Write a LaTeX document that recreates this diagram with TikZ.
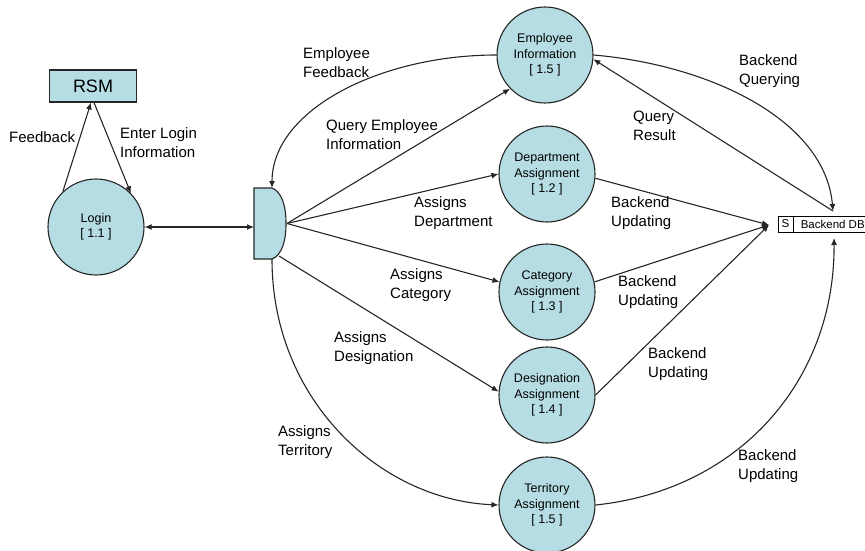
\documentclass[tikz,border=0pt]{standalone}
\usepackage{fontspec}
\setmainfont{Liberation Sans}
\usetikzlibrary{arrows.meta,calc}
\definecolor{procfill}{RGB}{182,221,228}
\definecolor{inkline}{RGB}{38,38,38}

\begin{document}
\begin{tikzpicture}[x=1pt,y=-1pt,
  flow/.style={draw=inkline, line width=1.1pt, -{Latex[length=7pt,width=6pt]}},
  twoway/.style={draw=inkline, line width=1.1pt, {Latex[length=7pt,width=6pt]}-{Latex[length=7pt,width=6pt]}},
  process/.style={circle, draw=inkline, line width=1.1pt, fill=procfill,
    minimum size=96pt, inner sep=0pt, align=center,
    font=\fontsize{12.5}{15.5}\selectfont},
  lbl/.style={anchor=west, inner sep=0pt, align=left,
    font=\fontsize{15}{19}\selectfont},
]
\useasboundingbox (0,0) rectangle (865,551);

% external entity
\node (rsm) [draw=inkline, line width=1.1pt, fill=procfill, minimum width=87pt,
  minimum height=32pt, font=\fontsize{18}{20}\selectfont] at (93,86) {RSM};

% processes
\node (login) [process] at (96,227) {Login\\{[} 1.1 {]}};
\node (emp)   [process] at (545,55)  {Employee\\Information\\{[} 1.5 {]}};
\node (dept)  [process] at (547,174) {Department\\Assignment\\{[} 1.2 {]}};
\node (cat)   [process] at (547,292) {Category\\Assignment\\{[} 1.3 {]}};
\node (des)   [process] at (547,395) {Designation\\Assignment\\{[} 1.4 {]}};
\node (terr)  [process] at (547,505) {Territory\\Assignment\\{[} 1.5 {]}};

% D-shaped hub
\draw[draw=inkline, line width=1.1pt, fill=procfill]
  (254,188) -- (272,188) .. controls (282,192) and (286,206) .. (286,223.5)
  .. controls (286,241) and (282,255) .. (272,259) -- (254,259) -- cycle;
\coordinate (stL)  at (254,227);
\coordinate (stR)  at (287,223.5);
\coordinate (stT)  at (272,188);
\coordinate (stB)  at (272,259);
\coordinate (stBR) at (279,256);

% data store
\node (dbS) [draw=black, line width=0.8pt, fill=white, minimum width=15pt,
  minimum height=16pt, inner sep=0pt, font=\fontsize{11.5}{12}\selectfont]
  at (785.5,224) {S};
\node (dbN) [draw=black, line width=0.8pt, fill=white, anchor=west,
  minimum height=16pt, inner ysep=0pt, inner xsep=7pt,
  font=\fontsize{11.5}{12}\selectfont] at (dbS.east) {Backend DB};
\coordinate (dbL) at (769,225);
\coordinate (dbT) at (833,211);
\coordinate (dbB) at (834,238);

% login flows
\draw[flow] (login.133) -- ($(rsm.south)+(-2,0)$);
\draw[flow] ($(rsm.south)+(1,0)$) -- (login.44);
\draw[twoway] (login.east) -- (stL);

% hub to processes
\draw[flow] (emp.180) .. controls (380,55) and (272,110) .. (stT);
\draw[flow] (stR) -- (emp.224);
\draw[flow] (stR) -- (dept.west);
\draw[flow] (stR) -- (cat.168);
\draw[flow] (stBR) -- (des.176);
\draw[flow] (stB) .. controls (272,400) and (380,500) .. (terr.west);

% processes to data store
\draw[flow] (emp.east) .. controls (710,65) and (825,120) .. (dbT);
\draw[flow] (dbT) -- (emp.355);
\draw[flow] (dept.355) -- (dbL);
\draw[flow] (cat.12) -- (dbL);
\draw[flow] (des.east) -- (dbL);
\draw[flow] (terr.east) .. controls (740,490) and (835,380) .. (dbB);

% flow labels
\node (lfb)    [lbl] at (9,137)   {Feedback};
\node (lent)   [lbl] at (120,143) {Enter Login\\Information};
\node (lempfb) [lbl] at (303,63)  {Employee\\Feedback};
\node (lqei)   [lbl] at (326,135) {Query Employee\\Information};
\node (lbq)    [lbl] at (739,71)  {Backend\\Querying};
\node (lqr)    [lbl] at (633,126) {Query\\Result};
\node (ladept) [lbl] at (414,213) {Assigns\\Department};
\node (lacat)  [lbl] at (390,285) {Assigns\\Category};
\node (lades)  [lbl] at (334,348) {Assigns\\Designation};
\node (later)  [lbl] at (278,442) {Assigns\\Territory};
\node (lbu1)   [lbl] at (611,213) {Backend\\Updating};
\node (lbu2)   [lbl] at (618,292) {Backend\\Updating};
\node (lbu3)   [lbl] at (648,364) {Backend\\Updating};
\node (lbu4)   [lbl] at (738,466) {Backend\\Updating};
\end{tikzpicture}
\end{document}
